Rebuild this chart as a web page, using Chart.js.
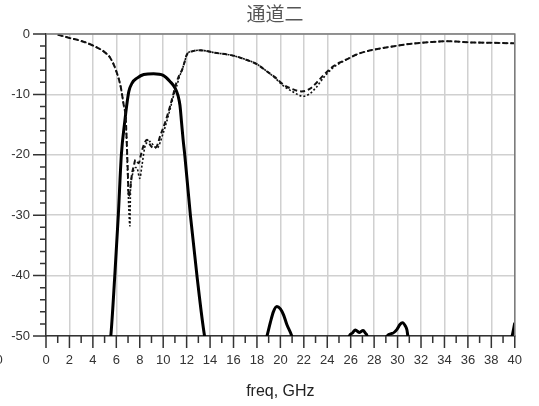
<!DOCTYPE html>
<html>
<head>
<meta charset="utf-8">
<script src="https://cdn.jsdelivr.net/npm/chart.js@4.4.1/dist/chart.umd.min.js"></script>
<style>
html,body{margin:0;padding:0;background:#fff;}
canvas{display:block;}
</style>
</head>
<body>
<canvas id="c" width="539" height="406"></canvas>
<script>
// ---- data ----
const titleText = "通道二";
const xAxisTitle = "freq, GHz";
const xTicksMajor = [0,2,4,6,8,10,12,14,16,18,20,22,24,26,28,30,32,34,36,38,40];
const yTicksMajor = [0,-10,-20,-30,-40,-50];

// dashed curve
const freqA = [1,2,3,4,5,5.5,5.95,6.37,6.65,6.8, 6.95,7.07,7.2,7.35,7.5,7.63,7.78,7.92,8.1,8.34, 8.62,8.9,9.18,9.46,9.74,10.16,10.58,10.86,11.0,11.14, 11.4,11.6,11.8,12.0,12.2,12.4,13.0,13.5,14.4,15.8, 17,18,18.86,19.5,20.27,21,21.8,22.5,23.07,23.7, 24.48,25.2,25.88,26.5,27.28,28.5,30.1,31,32.34,33.2, 34.16,35,36.27,38,40];
const valA  = [-0.1,-0.65,-1.15,-1.9,-3.0,-4.0,-5.9,-8.7,-12,-13.8, -21,-26.9,-25.5,-23,-21.8,-20.8,-21.2,-21.4,-20,-18.4, -17.5,-18.4,-18.9,-18.6,-16.9,-14.7,-12.0,-10.0,-8.9,-8.0, -6.7,-6.0,-4.8,-3.5,-3.0,-2.9,-2.7,-2.75,-3.1,-3.5, -4.2,-5.0,-6.2,-7.1,-8.4,-9.1,-9.5,-9.1,-8.1,-6.8, -5.4,-4.6,-4.0,-3.4,-2.9,-2.4,-1.9,-1.65,-1.4,-1.3, -1.2,-1.25,-1.4,-1.45,-1.55];

// dotted curve
const freqB = [1,2,3,4,5,5.5,5.95,6.37,6.65,6.8, 6.95,7.07,7.16,7.21,7.35,7.49,7.63,7.77,8.0,8.2, 8.48,8.9,9.18,9.46,10.0,10.3,10.58,10.86,11.14,11.4, 11.6,11.8,12.0,12.2,12.4,13.0,13.5,14.4,15.8,17, 18,18.86,19.5,20.27,21,21.95,22.5,23.07,23.7,24.48, 25.2,25.88,26.5,27.28,28.5,30.1,31,32.34,33.2,34.16, 35,36.27,38,40];
const valB  = [-0.1,-0.65,-1.15,-1.9,-3.0,-4.0,-5.9,-8.7,-12,-13.8, -22,-29,-31.8,-25.8,-23.5,-22.5,-22.1,-22.2,-23.9,-21.6, -18.4,-17.8,-18.5,-18.9,-16.4,-14.5,-12.5,-10.4,-8.7,-7.0, -6.0,-4.8,-3.5,-3.0,-2.9,-2.7,-2.75,-3.1,-3.5,-4.2, -5.0,-6.2,-7.2,-8.6,-9.5,-10.3,-9.9,-8.8,-7.2,-5.6, -4.7,-4.0,-3.4,-2.9,-2.4,-1.9,-1.65,-1.4,-1.3,-1.2, -1.25,-1.4,-1.45,-1.55];

// thick solid curve (values below -50 are off-scale)
const freqS = [4,5.53,5.87,6.17,6.43,6.72,6.93,7.07,7.35,7.77, 8.34,9.18,10.0,10.58,11.0,11.28,11.43,11.56,11.7,11.84, 12.32,12.88,13.53,16,18.86,19.14,19.4,19.7,20.0,20.27, 20.55,20.97,23.5,25.88,26.15,26.4,26.72,27.06,27.28,27.4, 28.3,29.1,29.5,29.95,30.2,30.43,30.65,30.8,30.88,35, 39.77,40];
const valS  = [-70,-50,-40,-30,-20,-14.5,-11.2,-9.5,-8.1,-7.3, -6.7,-6.57,-6.85,-7.85,-8.9,-10.3,-11.8,-14.5,-17.5,-20, -30,-40,-50,-70,-50,-47.8,-46,-45.1,-45.5,-46.5, -48.1,-50,-70,-50,-49.5,-49.0,-49.4,-49.1,-49.6,-50, -70,-50,-49.6,-48.9,-48.1,-47.8,-48.3,-49,-50,-70, -50,-47.8];

const zip = (xs, ys) => xs.map((x, i) => ({x: x, y: ys[i]}));

const FONT = '"Liberation Sans", Arial, sans-serif';

const decor = {
  id: 'decor',
  afterDraw(chart) {
    const ctx = chart.ctx;
    const xs = chart.scales.x, ys = chart.scales.y;
    const a = chart.chartArea;
    ctx.save();
    // top & right frame
    ctx.strokeStyle = '#7a7a7a';
    ctx.lineWidth = 1.5;
    ctx.beginPath();
    ctx.moveTo(a.left, a.top); ctx.lineTo(a.right, a.top); ctx.lineTo(a.right, a.bottom);
    ctx.stroke();
    // tick marks
    ctx.strokeStyle = '#333';
    ctx.lineWidth = 1.5;
    ctx.beginPath();
    for (let v = 0; v <= 40; v += 1) {
      const px = xs.getPixelForValue(v);
      const len = (v % 2 === 0) ? 12 : 7;
      ctx.moveTo(px, a.bottom); ctx.lineTo(px, a.bottom + len);
    }
    for (let v = 0; v >= -50; v -= 2) {
      const py = ys.getPixelForValue(v);
      const len = (v % 10 === 0) ? 13 : 6;
      ctx.moveTo(a.left, py); ctx.lineTo(a.left - len, py);
    }
    ctx.stroke();
    // title
    ctx.fillStyle = '#555';
    ctx.font = '19px "Noto Sans CJK SC", sans-serif';
    ctx.textAlign = 'center';
    ctx.textBaseline = 'middle';
    ctx.fillText(titleText, 275, 14);
    // clipped stray label at far left
    ctx.fillStyle = '#333';
    ctx.font = '13px ' + FONT;
    ctx.fillText('0', -1, 360);
    ctx.restore();
  }
};

new Chart(document.getElementById('c'), {
  type: 'line',
  data: {
    datasets: [
      { data: zip(freqA, valA), borderColor: '#111', borderWidth: 2, borderDash: [5, 3], pointRadius: 0, cubicInterpolationMode: 'monotone', fill: false },
      { data: zip(freqB, valB), borderColor: '#111', borderWidth: 1.6, borderDash: [2, 2], pointRadius: 0, cubicInterpolationMode: 'monotone', fill: false },
      { data: zip(freqS, valS), borderColor: '#000', borderWidth: 3, pointRadius: 0, cubicInterpolationMode: 'monotone', fill: false }
    ]
  },
  options: {
    responsive: false,
    animation: false,
    devicePixelRatio: 1,
    layout: { padding: { top: 34, right: 18, left: 0, bottom: 0 } },
    plugins: { legend: { display: false }, tooltip: { enabled: false }, title: { display: false } },
    scales: {
      x: {
        type: 'linear', min: 0, max: 40,
        afterBuildTicks: s => { s.ticks = xTicksMajor.map(v => ({value: v})); },
        afterFit: s => { s.height = 70; },
        grid: { color: '#d0d0d0', lineWidth: 1.5, drawTicks: false },
        border: { color: '#333', width: 1.5 },
        ticks: { font: { family: FONT, size: 13 }, color: '#333', padding: 17, maxRotation: 0, autoSkip: false },
        title: { display: true, text: xAxisTitle, font: { family: FONT, size: 16 }, color: '#222', padding: { top: 0, bottom: 5 } }
      },
      y: {
        type: 'linear', min: -50, max: 0,
        afterBuildTicks: s => { s.ticks = yTicksMajor.map(v => ({value: v})); },
        afterFit: s => { s.width = 46; },
        grid: { color: '#d0d0d0', lineWidth: 1.5, drawTicks: false },
        border: { color: '#333', width: 1.5 },
        ticks: { font: { family: FONT, size: 13 }, color: '#333', padding: 16 }
      }
    }
  },
  plugins: [decor]
});
</script>
</body>
</html>
